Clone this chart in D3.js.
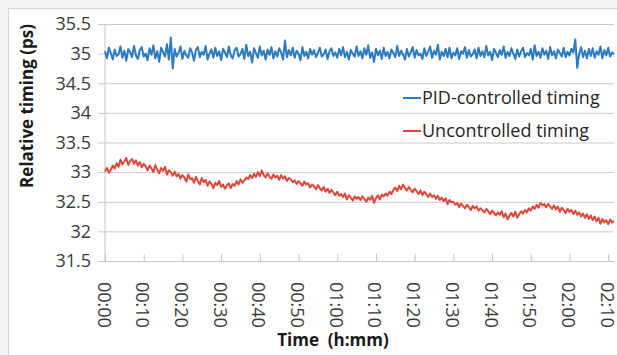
<!DOCTYPE html>
<html>
<head>
<meta charset="utf-8">
<script src="https://cdnjs.cloudflare.com/ajax/libs/d3/7.8.5/d3.min.js"></script>
<style>
  body { margin: 0; background: #f2f2f2; }
  svg { display: block; font-family: "Open Sans", sans-serif; }
</style>
</head>
<body>
<svg id="chart"></svg>
<script>
// relative timing (ps), one sample every 30 s starting at 00:00
var pidTiming = [
  35.04, 34.92, 35.10, 35.01, 34.90, 35.07, 34.96, 34.99, 35.12, 34.93, 35.05, 34.88,
  35.08, 35.02, 34.94, 35.13, 34.97, 34.91, 35.06, 35.11, 34.95, 35.00, 34.89, 35.09,
  34.98, 35.14, 34.92, 35.04, 34.86, 35.10, 35.03, 34.95, 35.16, 34.90, 35.27, 34.75,
  35.08, 34.95, 35.01, 35.12, 34.91, 35.05, 34.97, 34.93, 35.09, 35.02, 34.88, 35.06,
  35.11, 34.94, 35.03, 34.98, 35.13, 34.90, 35.00, 35.07, 34.93, 35.10, 34.96, 35.04,
  34.89, 35.08, 35.02, 34.94, 35.12, 34.97, 34.92, 35.06, 35.10, 34.95, 34.99, 35.08,
  34.91, 35.15, 34.96, 35.03, 34.85, 35.09, 35.01, 34.93, 35.12, 34.97, 35.05, 34.90,
  35.07, 34.98, 35.11, 34.92, 35.04, 34.95, 35.09, 35.02, 34.90, 35.22, 34.94, 35.06,
  34.97, 35.10, 34.93, 35.05, 35.00, 34.89, 35.11, 34.96, 35.03, 34.92, 35.08, 34.98,
  35.06, 34.94, 35.01, 35.10, 34.95, 34.99, 35.07, 34.91, 35.04, 35.09, 34.96, 35.02,
  34.93, 35.08, 34.97, 35.11, 34.94, 35.03, 34.90, 35.06, 35.00, 34.95, 35.12, 34.96,
  35.04, 34.92, 35.09, 34.98, 35.14, 34.93, 35.02, 34.86, 35.08, 34.97, 35.05, 34.91,
  35.10, 34.96, 35.03, 34.92, 35.07, 35.01, 34.94, 35.13, 34.96, 35.05, 34.99, 34.90,
  35.08, 34.95, 35.02, 35.11, 34.93, 35.06, 34.97, 35.00, 34.91, 35.09, 34.96, 35.04,
  35.12, 34.93, 35.05, 34.98, 35.15, 34.90, 35.03, 34.96, 35.08, 34.94, 35.10, 34.92,
  35.02, 34.97, 35.09, 34.91, 35.04, 35.00, 35.11, 34.93, 35.06, 34.95, 34.99, 35.07,
  34.92, 35.10, 34.96, 35.04, 34.94, 35.13, 34.97, 35.03, 34.89, 35.08, 35.01, 34.94,
  35.06, 34.98, 35.12, 34.93, 35.03, 34.96, 35.09, 35.00, 34.91, 35.07, 34.95, 35.04,
  35.10, 34.94, 35.01, 34.97, 35.08, 34.90, 35.14, 34.96, 35.03, 34.93, 35.09, 34.98,
  35.05, 34.91, 35.11, 34.97, 35.04, 34.92, 35.07, 35.01, 34.95, 35.10, 34.94, 35.03,
  34.97, 35.08, 35.02, 35.24, 34.76, 34.99, 35.11, 34.94, 35.05, 34.92, 35.08, 34.96,
  35.09, 34.93, 35.04, 34.98, 35.12, 34.92, 35.06, 34.97, 35.10, 34.95, 35.02, 34.99
];

var uncontrolledTiming = [
  33.01, 33.07, 32.99, 33.04, 33.11, 33.06, 33.15, 33.09, 33.21, 33.13, 33.18, 33.24,
  33.12, 33.19, 33.22, 33.14, 33.20, 33.11, 33.17, 33.08, 33.14, 33.10, 33.03, 33.11,
  33.06, 33.00, 33.12, 33.04, 32.98, 33.07, 33.02, 33.09, 32.96, 33.03, 33.00, 32.94,
  33.01, 32.93, 32.97, 32.89, 32.95, 32.91, 32.84, 32.96, 32.88, 32.90, 32.82, 32.92,
  32.85, 32.79, 32.90, 32.83, 32.87, 32.77, 32.84, 32.80, 32.73, 32.82, 32.78, 32.85,
  32.75, 32.79, 32.72, 32.78, 32.81, 32.73, 32.80, 32.77, 32.85, 32.79, 32.88, 32.82,
  32.86, 32.91, 32.88, 32.95, 32.90, 32.97, 32.92, 33.00, 32.93, 33.03, 32.95, 32.91,
  32.98, 32.92, 32.89, 32.96, 32.91, 32.94, 32.87, 32.95, 32.89, 32.93, 32.85, 32.90,
  32.88, 32.83, 32.86, 32.80, 32.85, 32.81, 32.77, 32.84, 32.79, 32.81, 32.74, 32.79,
  32.76, 32.71, 32.78, 32.73, 32.69, 32.75, 32.67, 32.72, 32.65, 32.70, 32.66, 32.61,
  32.67, 32.60, 32.63, 32.58, 32.64, 32.54, 32.61, 32.57, 32.52, 32.59, 32.55, 32.58,
  32.53, 32.59, 32.55, 32.50, 32.57, 32.53, 32.60, 32.48, 32.56, 32.61, 32.54, 32.62,
  32.59, 32.64, 32.60, 32.67, 32.63, 32.70, 32.74, 32.68, 32.77, 32.71, 32.79, 32.73,
  32.69, 32.75, 32.70, 32.66, 32.72, 32.68, 32.63, 32.69, 32.61, 32.67, 32.63, 32.58,
  32.64, 32.58, 32.61, 32.55, 32.60, 32.53, 32.57, 32.51, 32.56, 32.46, 32.53, 32.49,
  32.50, 32.45, 32.48, 32.41, 32.47, 32.43, 32.39, 32.45, 32.41, 32.36, 32.43, 32.39,
  32.42, 32.35, 32.39, 32.36, 32.32, 32.38, 32.34, 32.29, 32.35, 32.31, 32.27, 32.32,
  32.28, 32.34, 32.24, 32.30, 32.20, 32.27, 32.31, 32.25, 32.33, 32.23, 32.29, 32.34,
  32.30, 32.36, 32.32, 32.39, 32.35, 32.42, 32.38, 32.45, 32.40, 32.48, 32.44, 32.46,
  32.41, 32.46, 32.42, 32.38, 32.44, 32.37, 32.42, 32.33, 32.40, 32.36, 32.31, 32.38,
  32.33, 32.36, 32.29, 32.35, 32.28, 32.32, 32.25, 32.30, 32.23, 32.29, 32.21, 32.27,
  32.19, 32.25, 32.17, 32.23, 32.13, 32.21, 32.15, 32.19, 32.12, 32.20, 32.15, 32.18
];

var sampleStep = 0.5; // minutes between samples
var timeTicks = [0, 10, 20, 30, 40, 50, 60, 70, 80, 90, 100, 110, 120, 130];
var timeLabels = ["00:00", "00:10", "00:20", "00:30", "00:40", "00:50", "01:00",
                  "01:10", "01:20", "01:30", "01:40", "01:50", "02:00", "02:10"];
var yTicks = [31.5, 32, 32.5, 33, 33.5, 34, 34.5, 35, 35.5];
var seriesNames = ["PID-controlled timing", "Uncontrolled timing"];
var seriesColors = ["#2b7bc4", "#e0473b"];

var width = 617, height = 355;
var plotLeft = 105, plotRight = 614, plotTop = 24, plotBottom = 261;

var svg = d3.select('#chart')
    .attr('width', width)
    .attr('height', height);

// chart frame
svg.append('rect')
    .attr('x', 8.5).attr('y', 8.5)
    .attr('width', width).attr('height', height)
    .attr('fill', '#ffffff')
    .attr('stroke', '#d4d4d4');

var lastMinute = (pidTiming.length - 1) * sampleStep;

var x = d3.scaleLinear()
    .domain([0, lastMinute])
    .range([plotLeft, plotRight]);

var y = d3.scaleLinear()
    .domain([31.5, 35.5])
    .range([plotBottom, plotTop]);

// gridlines + y labels
var yAxis = d3.axisLeft(y)
    .tickValues(yTicks)
    .tickSize(-(plotRight - plotLeft))
    .tickPadding(14)
    .tickFormat(d => d3.format('')(d));

svg.append('g')
    .attr('transform', `translate(${plotLeft},0)`)
    .call(yAxis)
    .call(g => g.select('.domain').remove())
    .call(g => g.selectAll('.tick line')
        .attr('x1', -7)
        .attr('stroke', '#c9c9c9'))
    .call(g => g.selectAll('.tick text')
        .attr('fill', '#3a3a3a')
        .style('font-size', '18px')
        .style('font-family', '"Open Sans", sans-serif'));

// left axis line
svg.append('line')
    .attr('x1', plotLeft).attr('x2', plotLeft)
    .attr('y1', plotTop).attr('y2', plotBottom)
    .attr('stroke', '#c4c4c4');

// bottom axis, ticks point up into the plot
var xAxis = d3.axisBottom(x)
    .tickValues(timeTicks)
    .tickSize(-7)
    .tickFormat('');

svg.append('g')
    .attr('transform', `translate(0,${plotBottom})`)
    .call(xAxis)
    .call(g => g.select('.domain').remove())
    .call(g => g.selectAll('.tick line').attr('stroke', '#c4c4c4'));

svg.append('g')
    .selectAll('text')
    .data(timeTicks)
    .enter()
    .append('text')
    .attr('transform', d => `translate(${x(d) - 1},282) rotate(90)`)
    .attr('dy', '0.36em')
    .attr('fill', '#3a3a3a')
    .style('font-size', '18px')
    .text((d, i) => timeLabels[i]);

// series
var line = d3.line()
    .x((d, i) => x(i * sampleStep))
    .y(d => y(d));

[pidTiming, uncontrolledTiming].forEach((values, k) => {
    svg.append('path')
        .datum(values)
        .attr('fill', 'none')
        .attr('stroke', seriesColors[k])
        .attr('stroke-width', 2)
        .attr('stroke-linejoin', 'round')
        .attr('d', line);
});

// legend
var legendY = [98, 131];
seriesNames.forEach((name, k) => {
    svg.append('line')
        .attr('x1', 403).attr('x2', 421)
        .attr('y1', legendY[k]).attr('y2', legendY[k])
        .attr('stroke', seriesColors[k])
        .attr('stroke-width', 2);
    svg.append('text')
        .attr('x', 422)
        .attr('y', legendY[k])
        .attr('dy', '0.35em')
        .attr('fill', '#262626')
        .style('font-size', '18px')
        .text(name);
});

// axis titles
svg.append('text')
    .attr('transform', 'translate(33,106) rotate(-90)')
    .attr('text-anchor', 'middle')
    .attr('fill', '#1a1a1a')
    .style('font-size', '17px')
    .style('font-weight', 'bold')
    .text('Relative timing (ps)');

svg.append('text')
    .attr('x', 333)
    .attr('y', 346)
    .attr('text-anchor', 'middle')
    .attr('fill', '#1a1a1a')
    .style('font-size', '17px')
    .style('font-weight', 'bold')
    .style('white-space', 'pre')
    .text('Time  (h:mm)');
</script>
</body>
</html>
